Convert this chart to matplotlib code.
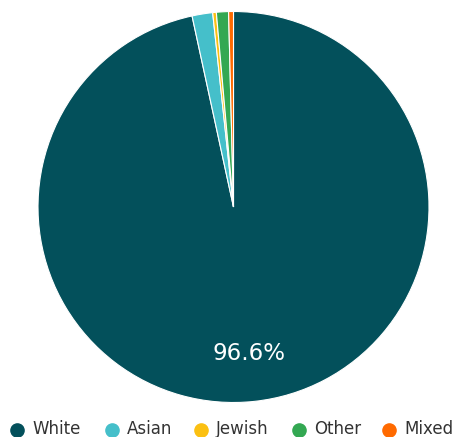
import matplotlib
matplotlib.use("Agg")
import matplotlib.pyplot as plt
import numpy as np

labels = ["White", "Asian", "Jewish", "Other", "Mixed"]
values = [96.6, 1.7, 0.3, 1.0, 0.4]
colors = ["#03505B", "#45BFCA", "#FBC012", "#33A852", "#FF6A00"]

plt.rcParams["font.family"] = ["DejaVu Sans"]

fig = plt.figure(figsize=(4.59, 4.37), dpi=100)
W, H = 459, 437
cx, cy, r = 233.5, 207, 195.5
ax = fig.add_axes([(cx - r) / W, (H - cy - r) / H, 2 * r / W, 2 * r / H])

wedges, _ = ax.pie(
    values,
    colors=colors,
    startangle=90,
    counterclock=False,
    radius=1.0,
    wedgeprops=dict(edgecolor="white", linewidth=0.8),
)
ax.set_xlim(-1, 1)
ax.set_ylim(-1, 1)
ax.set_aspect("equal")
ax.axis("off")

# percentage label for the dominant slice
total = sum(values)
mid = 90 - 360 * (values[0] / total) / 2
ang = np.deg2rad(mid)
ax.text(0.75 * np.cos(ang), 0.755 * np.sin(ang), f"{values[0]:.1f}%",
        color="white", fontsize=16.5, ha="center", va="center")

# legend row along the bottom, laid out in pixel positions
leg = fig.add_axes([0, 0, 1, 1], facecolor="none")
leg.set_xlim(0, W)
leg.set_ylim(H, 0)
leg.axis("off")
item_x = [17, 112, 201, 299, 389]
row_y = 429.5
for x, lab, col in zip(item_x, labels, colors):
    leg.plot([x], [row_y], marker="o", markersize=9.5, color=col, linestyle="")
    leg.text(x + 15, row_y, lab, fontsize=12, color="#333333",
             ha="left", va="center")

fig.savefig("out.png", dpi=100)
